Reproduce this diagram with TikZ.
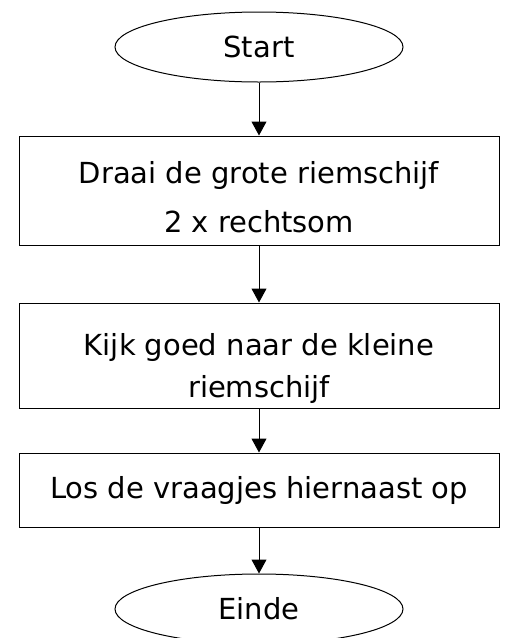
\documentclass[tikz,border=0pt]{standalone}
\usepackage{fontspec}
\setmainfont{DejaVu Sans}
\usetikzlibrary{arrows.meta,shapes.geometric}

\begin{document}
\begin{tikzpicture}[x=1pt,y=-1pt,line width=1pt,font=\fontsize{29}{49}\selectfont,
  term/.style={draw,ellipse,minimum width=288pt,minimum height=70pt,inner sep=0pt},
  stap/.style={draw,rectangle,minimum width=480pt,align=center,inner sep=0pt}]

\fill[white] (0,0) rectangle (506,638);
\useasboundingbox (0,0) rectangle (506,638);

\node[term] (start) at (259,47) {Start};
\node[stap,minimum height=109pt] (s1) at (259,190.5) {\rule{0pt}{35pt}Draai de grote riemschijf\\2 x rechtsom};
\node[stap,minimum height=105pt] (s2) at (259,355.5) {\rule{0pt}{49pt}Kijk goed naar de kleine\\[-7pt]riemschijf};
\node[stap,minimum height=74pt] (s3) at (259,490) {Los de vraagjes hiernaast op};
\node[term] (einde) at (259,609) {Einde};

\path[-{Triangle[length=14pt,width=15pt]}] (start) edge (s1) (s1) edge (s2) (s2) edge (s3) (s3) edge (einde);

\end{tikzpicture}
\end{document}
